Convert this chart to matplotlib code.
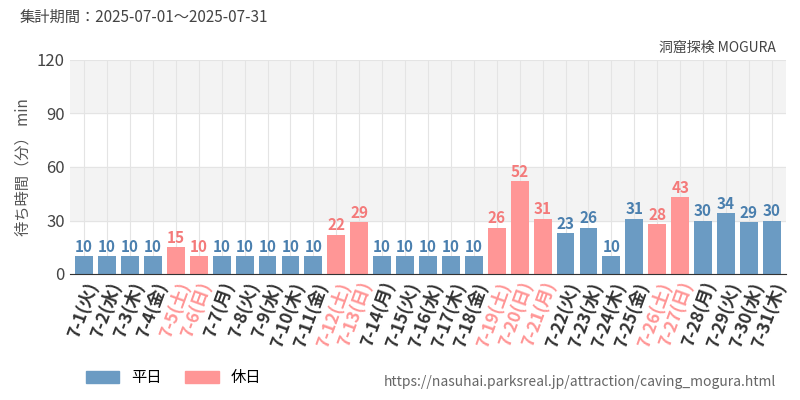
import matplotlib
matplotlib.use("Agg")
import matplotlib.pyplot as plt
from matplotlib.patches import Patch

plt.rcParams["font.family"] = ["Noto Sans CJK JP"]

days = [f"7-{d}" for d in range(1, 32)]
weekdays = ["火","水","木","金","土","日","月"]
wd_labels = [weekdays[i % 7] for i in range(31)]
values = [10,10,10,10,15,10,10,10,10,10,10,22,29,10,10,10,10,10,26,52,31,23,26,10,31,28,43,30,34,29,30]
holidays = {"7-5","7-6","7-12","7-13","7-19","7-20","7-21","7-26","7-27"}
yticks = [0, 30, 60, 90, 120]

blue, red = "#6b9bc3", "#ff9696"
blue_t, red_t = "#4a7fae", "#f47a7a"

fig = plt.figure(figsize=(8, 4), dpi=100)
ax = fig.add_axes([0.088, 0.315, 0.894, 0.535])
for lo in (30, 90):
    ax.axhspan(lo, lo + 30, color="#f3f3f3", zorder=0)
x = list(range(31))
cols = [red if d in holidays else blue for d in days]
ax.bar(x, values, width=0.78, color=cols, zorder=2)
for i, v in enumerate(values):
    ax.text(i, v + 0.8, str(v), ha="center", va="bottom", fontsize=11, fontweight="bold",
            color=red_t if days[i] in holidays else blue_t, zorder=3)
ax.set_xlim(-0.6, 30.6)
ax.set_ylim(0, 120)
ax.set_yticks(yticks)
ax.set_yticklabels([str(t) for t in yticks], fontsize=12, color="#444444")
ax.set_xticks(x)
ax.set_xticklabels([f"{d}({w})" for d, w in zip(days, wd_labels)], rotation=70, ha="right",
                   rotation_mode="anchor", fontsize=12.5, fontweight="bold")
for lbl, d in zip(ax.get_xticklabels(), days):
    lbl.set_color(red if d in holidays else "#333333")
ax.grid(True, color="#e4e4e4", linewidth=0.8, zorder=1)
ax.set_axisbelow(True)
for s in ("top", "right"):
    ax.spines[s].set_visible(False)
ax.spines["left"].set_visible(False)
ax.spines["bottom"].set_color("#333333")
ax.tick_params(length=0, pad=4)
ax.set_ylabel("待ち時間（分） min", fontsize=11, color="#555555")

fig.text(0.025, 0.945, "集計期間：2025-07-01～2025-07-31", fontsize=11, color="#444444")
fig.text(0.97, 0.87, "洞窟探検 MOGURA", fontsize=10, color="#444444", ha="right")
fig.text(0.97, 0.035, "https://nasuhai.parksreal.jp/attraction/caving_mogura.html", fontsize=10,
         color="#666666", ha="right")
fig.legend(handles=[Patch(color=blue, label="平日"), Patch(color=red, label="休日")],
           loc="lower left", bbox_to_anchor=(0.09, 0.0), ncol=2, frameon=False, fontsize=11,
           handlelength=2.2, handleheight=0.8, columnspacing=1.5)
fig.savefig("out.png")
